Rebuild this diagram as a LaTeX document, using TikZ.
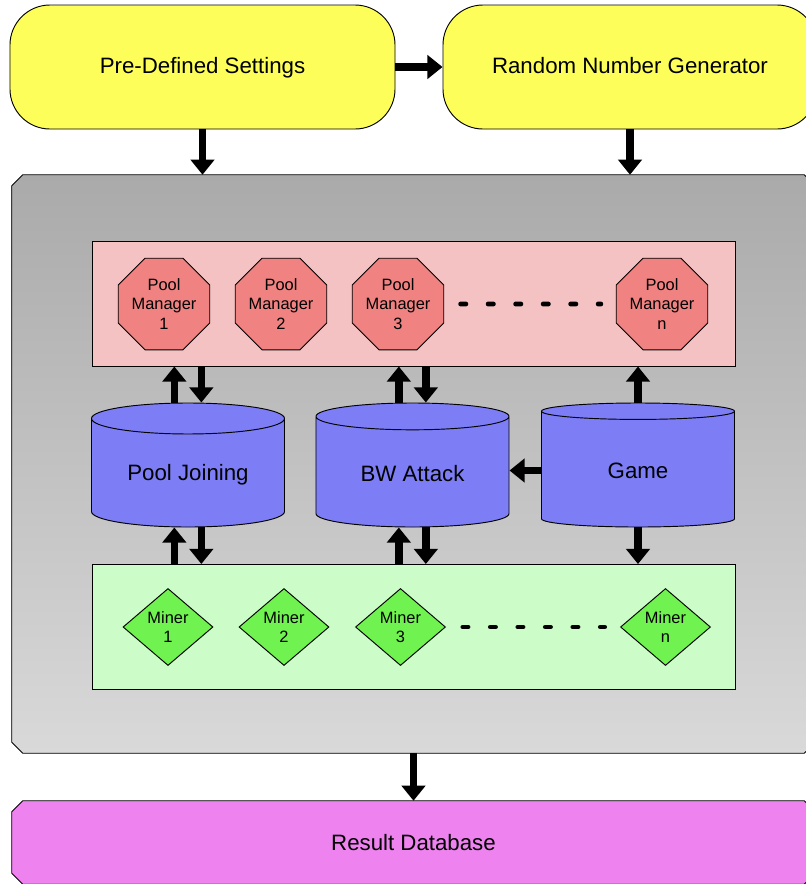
\documentclass[tikz,border=0pt]{standalone}
\usepackage{fontspec}
\setmainfont{Liberation Sans}
\usetikzlibrary{shapes.geometric,arrows.meta,backgrounds}

\definecolor{settingsyellow}{RGB}{254,254,90}
\definecolor{framegraytop}{RGB}{170,170,170}
\definecolor{framegraybot}{RGB}{217,217,217}
\definecolor{poolpink}{RGB}{244,194,194}
\definecolor{managerred}{RGB}{240,130,130}
\definecolor{modelblue}{RGB}{125,125,245}
\definecolor{minerbg}{RGB}{204,252,200}
\definecolor{minergreen}{RGB}{112,242,80}
\definecolor{resultviolet}{RGB}{238,130,238}

% outline with cut corners round a named node
\newcommand{\chamferoutline}[2]{%
  \draw[line width=0.8pt,#2] ([xshift=0.33cm]#1.north west) -- ([xshift=-0.33cm]#1.north east)
    -- ([yshift=-0.33cm]#1.north east) -- ([yshift=0.33cm]#1.south east)
    -- ([xshift=-0.33cm]#1.south east) -- ([xshift=0.33cm]#1.south west)
    -- ([yshift=0.33cm]#1.south west) -- ([yshift=-0.33cm]#1.north west) -- cycle;}

\tikzset{
  bigtext/.style={font=\fontsize{19}{22}\selectfont},
  smalltext/.style={font=\fontsize{14}{16.6}\selectfont, align=center, inner sep=0pt},
  yellowbox/.style={draw, line width=0.8pt, fill=settingsyellow, rounded corners=1.2cm,
    minimum width=11.55cm, minimum height=3.72cm, text depth=0.3em, bigtext},
  chambox/.style={minimum width=24.09cm, inner sep=0pt},
  rowbox/.style={draw, line width=0.8pt, minimum width=19.29cm, minimum height=3.75cm},
  manager/.style={draw, line width=0.8pt, fill=managerred, regular polygon,
    regular polygon sides=8, minimum size=2.92cm, smalltext},
  miner/.style={draw, line width=0.8pt, fill=minergreen, diamond,
    minimum width=2.7cm, minimum height=2.31cm, smalltext},
  store/.style={draw, line width=0.8pt, fill=modelblue, cylinder, shape border rotate=90,
    aspect=0.24, minimum width=5.79cm, minimum height=3.72cm, anchor=shape center, bigtext},
  bigarrow/.style={line width=6.5pt, -{Triangle[width=20pt,length=13pt]}},
  dashrow/.style={line width=4.25pt, line cap=round, dash pattern=on 0.15cm off 0.675cm},
}

\begin{document}
\begin{tikzpicture}[x=0.03cm,y=-0.03cm]
  \useasboundingbox (0,0) rectangle (806,884);

  % inputs
  \node[yellowbox] (pds) at (202.5,67) {Pre-Defined Settings};
  \node[yellowbox, minimum width=11.22cm] (rng) at (630,67) {Random Number Generator};

  % simulator frame and output
  \node[chambox, minimum height=17.34cm] (frame) at (413.5,464) {};
  \node[chambox, minimum height=2.49cm, bigtext] (result) at (413.5,842.5) {Result Database};
  \begin{scope}[on background layer]
    \chamferoutline{frame}{top color=framegraytop, bottom color=framegraybot}
    \chamferoutline{result}{fill=resultviolet}
  \end{scope}

  % pool managers
  \node[rowbox, fill=poolpink] (pools) at (413.5,303.5) {};
  \foreach \n/\x in {1/164,2/281,3/398,n/662}
    \node[manager] (pm\n) at (\x,304) {Pool\\Manager\\\n};
  \draw[dashrow, shorten <=0.495cm, shorten >=0.45cm] (pm3) -- (pmn);

  % models
  \node[store] (pj) at (188,465) {Pool Joining};
  \node[store] (bw) at (412.5,465) {BW Attack};
  \node[store] (game) at (638,465) {Game};

  % miners
  \node[rowbox, fill=minerbg] (miners) at (413.5,627) {};
  \foreach \n/\x in {1/168,2/284,3/400.5,n/665.5}
    \node[miner] (m\n) at (\x,627) {Miner\\\n};
  \draw[dashrow, shorten <=0.51cm, shorten >=0.465cm] (m3) -- (mn);

  % arrows
  \draw[bigarrow] (pds) -- (rng);
  \draw[bigarrow] (pds.south) -- (pds.south |- frame.north);
  \draw[bigarrow] (rng.south) -- (rng.south |- frame.north);
  \foreach \c in {pj,bw} {
    \draw[bigarrow] ([xshift=-0.41cm]\c.north) -- ([xshift=-0.41cm]\c.north |- pools.south);
    \draw[bigarrow] ([xshift=0.4cm]\c.north |- pools.south) -- ([xshift=0.4cm]\c.north);
    \draw[bigarrow] ([xshift=-0.41cm]\c.south |- miners.north) -- ([xshift=-0.41cm]\c.south);
    \draw[bigarrow] ([xshift=0.4cm]\c.south) -- ([xshift=0.4cm]\c.south |- miners.north);
  }
  \draw[bigarrow] (game.north) -- (game.north |- pools.south);
  \draw[bigarrow] (game.south) -- (game.south |- miners.north);
  \draw[bigarrow] (game.west) -- (game.west -| bw.east);
  \draw[bigarrow] (frame.south) -- (result.north);
\end{tikzpicture}
\end{document}
